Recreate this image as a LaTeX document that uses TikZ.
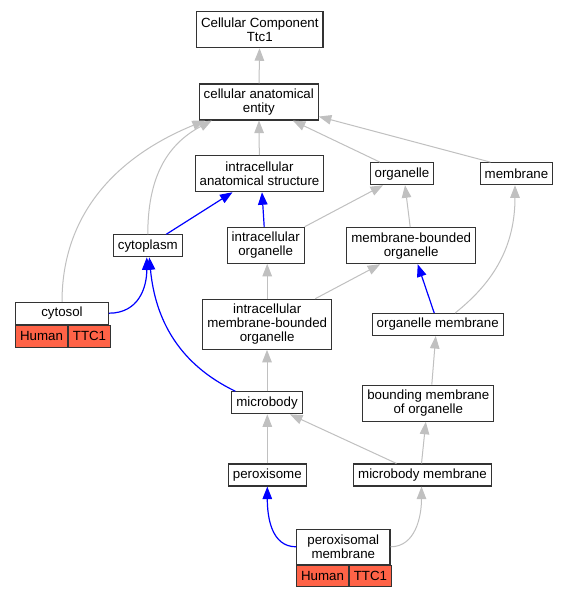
\documentclass[tikz,border=0pt]{standalone}
\usepackage{fontspec}
\setmainfont{Liberation Sans}
\usetikzlibrary{arrows.meta}
\definecolor{isagray}{HTML}{C0C0C0}
\definecolor{hitred}{HTML}{FF6347}

\begin{document}
\begin{tikzpicture}[x=1pt, y=-1pt,
        term/.style={draw=black!80, line width=1.1pt, fill=white, font=\fontsize{13.3}{14}\selectfont,
            align=center, inner xsep=4.4pt, inner ysep=0pt, minimum height=22pt},
        twoline/.style={minimum height=36pt},
        threeline/.style={minimum height=50pt},
        hit/.style={term, fill=hitred, minimum height=22pt},
        isa/.style={-{Triangle[length=12.5pt,width=9.5pt]}, isagray, line width=1pt},
        partof/.style={-{Triangle[length=12.5pt,width=9.5pt]}, blue, line width=1.2pt}]

        \fill [white] (0,0) rectangle (567,597);

        % terms
        \node (cc) [term, twoline] at (259.8,29.7) {Cellular Component\\Ttc1};
        \node (cae) [term, twoline] at (258.8,102) {cellular anatomical\\entity};
        \node (ias) [term, twoline] at (259.5,173.7) {intracellular\\anatomical structure};
        \node (organelle) [term] at (402,173.7) {organelle};
        \node (membrane) [term] at (516.5,173.7) {membrane};
        \node (cytoplasm) [term] at (147.8,245.8) {cytoplasm};
        \node (io) [term, twoline] at (265.7,245.3) {intracellular\\organelle};
        \node (mbo) [term, twoline] at (411.2,245.7) {membrane-bounded\\organelle};
        \node (imbo) [term, threeline] at (267.2,324.3) {intracellular\\membrane-bounded\\organelle};
        \node (om) [term] at (437.7,324.5) {organelle membrane};
        \node (microbody) [term] at (267,402.8) {microbody};
        \node (bmo) [term, twoline] at (428.3,403.2) {bounding membrane\\of organelle};
        \node (peroxisome) [term] at (267.3,475) {peroxisome};
        \node (mbm) [term] at (422.5,475) {microbody membrane};

        % annotated terms
        \node (cytosol) [term, minimum width=92.6pt, minimum height=21.7pt] at (62,313.2) {cytosol};
        \node (cytosolsp) [hit, anchor=north west, minimum width=51pt] at (cytosol.south west) {Human};
        \node (cytosolgn) [hit, anchor=north west, minimum width=41.6pt] at (cytosolsp.north east) {TTC1};

        \node (pm) [term, twoline, minimum width=93.3pt, minimum height=35pt] at (343.3,546.8) {peroxisomal\\membrane};
        \node (pmsp) [hit, anchor=north west, minimum width=51.6pt, minimum height=21.4pt] at (pm.south west) {Human};
        \node (pmgn) [hit, anchor=north west, minimum width=41.7pt, minimum height=21.4pt] at (pmsp.north east) {TTC1};

        % is_a
        \draw [isa] (cae) -- (cc);
        \draw [isa] (ias) -- (cae);
        \draw [isa] ([xshift=-22pt]organelle.north) -- ([xshift=34pt]cae.south);
        \draw [isa] ([xshift=-26pt]membrane.north) -- ([yshift=4pt]cae.south east);
        \draw [isa] (cytosol.north) .. controls +(0,-82) and +(-95,39) .. ([xshift=-54pt]cae.south);
        \draw [isa] (cytoplasm.north) .. controls +(0,-54) and +(-47,25) .. ([xshift=-47pt]cae.south);
        \draw [isa] (io.north east) -- ([xshift=-19pt]organelle.south);
        \draw [isa] ([xshift=-1pt]mbo.north) -- ([xshift=3pt]organelle.south);
        \draw [isa] (imbo.north) -- (imbo.north |- io.south);
        \draw [isa] ([xshift=48pt]imbo.north) -- ([xshift=-31pt]mbo.south);
        \draw [isa] ([xshift=17.5pt]om.north) .. controls +(35,-28) and +(0,65) .. ([xshift=-1.5pt]membrane.south);
        \draw [isa] (microbody.north) -- (microbody.north |- imbo.south);
        \draw [isa] ([xshift=3.5pt]bmo.north) -- ([xshift=-2pt]om.south);
        \draw [isa] (peroxisome.north) -- (peroxisome.north |- microbody.south);
        \draw [isa] ([xshift=-26pt]mbm.north) -- ([xshift=23pt]microbody.south);
        \draw [isa] ([xshift=-1pt]mbm.north) -- ([xshift=-2.5pt]bmo.south);
        \draw [isa] (pm.east) .. controls +(25,0) and +(0,30) .. ([xshift=-1pt]mbm.south);

        % part_of
        \draw [partof] ([xshift=18.5pt]cytoplasm.north) -- ([xshift=-27pt]ias.south);
        \draw [partof] ([xshift=-1.5pt]io.north) -- ([xshift=2.5pt]ias.south);
        \draw [partof] (cytosol.east) .. controls +(30,0) and +(0,30) .. ([xshift=-1pt]cytoplasm.south);
        \draw [partof] ([xshift=4pt]microbody.north west) .. controls +(-56,-27) and +(6,63) .. ([xshift=1.5pt]cytoplasm.south);
        \draw [partof] ([xshift=-3.5pt]om.north) -- ([xshift=6.5pt]mbo.south);
        \draw [partof] (pm.west) .. controls +(-25,0) and +(0,30) .. (peroxisome.south);

    \end{tikzpicture}
\end{document}
